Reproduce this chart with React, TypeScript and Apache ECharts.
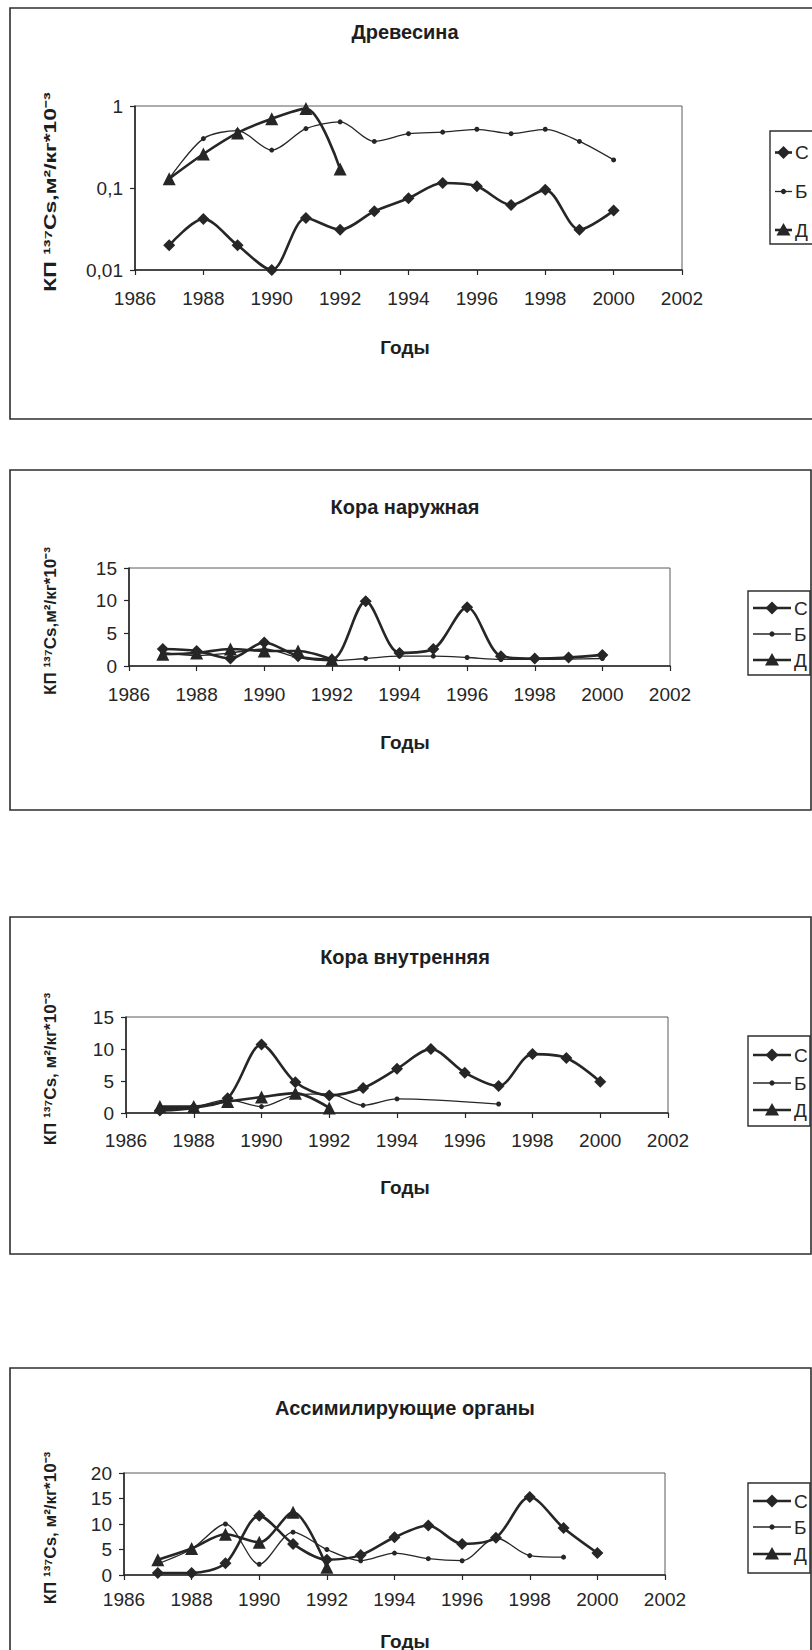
import React, { useEffect, useRef } from "react";
import * as echarts from "echarts";

// Years of observation
const years = [1987, 1988, 1989, 1990, 1991, 1992, 1993, 1994, 1995, 1996, 1997, 1998, 1999, 2000];
const yearsD = [1987, 1988, 1989, 1990, 1991, 1992];
const seriesNames = ["С", "Б", "Д"];
const xAxisRange = { min: 1986, max: 2002, interval: 2 };

// Древесина (log scale)
const woodC = [0.02, 0.042, 0.02, 0.01, 0.043, 0.031, 0.052, 0.075, 0.115, 0.105, 0.062, 0.095, 0.031, 0.053];
const woodB = [0.13, 0.4, 0.5, 0.29, 0.53, 0.64, 0.37, 0.46, 0.48, 0.52, 0.46, 0.52, 0.37, 0.22];
const woodD = [0.13, 0.26, 0.47, 0.7, 0.93, 0.17];

// Кора наружная
const outerC = [2.6, 2.3, 1.15, 3.6, 1.5, 1.0, 9.9, 2.0, 2.6, 9.0, 1.5, 1.15, 1.3, 1.7];
const outerB = [2.1, 1.6, 2.0, 2.6, 1.3, 0.8, 1.15, 1.5, 1.5, 1.3, 1.0, 1.0, 1.05, 1.15];
const outerD = [1.8, 2.0, 2.6, 2.3, 2.3, 1.0];

// Кора внутренняя
const innerC = [0.4, 0.8, 2.3, 10.7, 4.8, 2.75, 3.9, 6.9, 10.0, 6.3, 4.2, 9.2, 8.6, 4.9];
const innerBYears = [1987, 1988, 1989, 1990, 1991, 1992, 1993, 1994, 1997];
const innerB = [0.7, 0.9, 2.1, 1.0, 2.8, 3.0, 1.2, 2.2, 1.4];
const innerD = [1.0, 1.0, 1.8, 2.5, 3.1, 0.8];

// Ассимилирующие органы
const needleC = [0.4, 0.4, 2.3, 11.6, 6.1, 3.0, 3.9, 7.4, 9.7, 6.1, 7.3, 15.3, 9.2, 4.3];
const needleBYears = [1987, 1988, 1989, 1990, 1991, 1992, 1993, 1994, 1995, 1996, 1997, 1998, 1999];
const needleB = [2.2, 5.1, 10.0, 2.1, 8.4, 5.0, 2.8, 4.3, 3.2, 2.8, 7.3, 3.8, 3.5];
const needleD = [3.0, 5.2, 8.0, 6.4, 12.3, 1.5];

const FONT = '"Liberation Sans", Arial, Helvetica, sans-serif';
const INK = "#262626";

const pairs = (xs: number[], ys: number[]) => xs.map((x, i) => [x, ys[i]]);

type Panel = {
  title: string;
  yName: string;
  yNameStretch: number;
  log?: boolean;
  yMax: number;
  box: [number, number, number, number];
  grid: { left: number; top: number; width: number; height: number };
  labelMargin: number;
  titleY: number;
  xNameY: number;
  legendBox: [number, number, number, number];
  legendRows: number[];
  legendLine: number;
  data: number[][][];
};

const panels: Panel[] = [
  {
    title: "Древесина",
    yName: "КП ¹³⁷Cs,м²/кг*10⁻³",
    yNameStretch: 1.35,
    log: true,
    yMax: 1,
    box: [10, 8, 830, 411],
    grid: { left: 135, top: 106, width: 547, height: 164 },
    labelMargin: 19,
    titleY: 32,
    xNameY: 347,
    legendBox: [770, 131, 60, 113],
    legendRows: [21.5, 60.5, 99],
    legendLine: 17,
    data: [pairs(years, woodC), pairs(years, woodB), pairs(yearsD, woodD)],
  },
  {
    title: "Кора наружная",
    yName: "КП ¹³⁷Cs,м²/кг*10⁻³",
    yNameStretch: 1,
    yMax: 15,
    box: [10, 470, 801, 340],
    grid: { left: 129, top: 568, width: 541, height: 98 },
    labelMargin: 19,
    titleY: 507,
    xNameY: 742,
    legendBox: [748, 591, 62, 84],
    legendRows: [17, 43, 69],
    legendLine: 38,
    data: [pairs(years, outerC), pairs(years, outerB), pairs(yearsD, outerD)],
  },
  {
    title: "Кора внутренняя",
    yName: "КП ¹³⁷Cs, м²/кг*10⁻³",
    yNameStretch: 1,
    yMax: 15,
    box: [10, 917, 801, 337],
    grid: { left: 126, top: 1017, width: 542, height: 96 },
    labelMargin: 18,
    titleY: 957,
    xNameY: 1187,
    legendBox: [748, 1036, 62, 90],
    legendRows: [19, 47, 74],
    legendLine: 38,
    data: [pairs(years, innerC), pairs(innerBYears, innerB), pairs(yearsD, innerD)],
  },
  {
    title: "Ассимилирующие органы",
    yName: "КП ¹³⁷Cs, м²/кг*10⁻³",
    yNameStretch: 1,
    yMax: 20,
    box: [10, 1368, 801, 400],
    grid: { left: 124, top: 1473, width: 541, height: 102 },
    labelMargin: 15,
    titleY: 1408,
    xNameY: 1641,
    legendBox: [748, 1483, 62, 90],
    legendRows: [18, 44, 71],
    legendLine: 38,
    data: [pairs(years, needleC), pairs(needleBYears, needleB), pairs(yearsD, needleD)],
  },
];

const seriesStyles = [
  { symbol: "diamond", symbolSize: 12, width: 2.6 },
  { symbol: "circle", symbolSize: 5, width: 1.3 },
  { symbol: "triangle", symbolSize: 13, width: 2.6 },
];

function legendMarker(kind: number, cx: number, cy: number) {
  if (kind === 0) {
    return {
      type: "polygon",
      shape: { points: [[cx, cy - 6.5], [cx + 6.5, cy], [cx, cy + 6.5], [cx - 6.5, cy]] },
      style: { fill: INK },
    };
  }
  if (kind === 1) {
    return { type: "circle", shape: { cx, cy, r: 2.6 }, style: { fill: INK } };
  }
  return {
    type: "polygon",
    shape: { points: [[cx, cy - 7], [cx + 7, cy + 5.5], [cx - 7, cy + 5.5]] },
    style: { fill: INK },
  };
}

function buildOption() {
  const grid: any[] = [];
  const xAxis: any[] = [];
  const yAxis: any[] = [];
  const series: any[] = [];
  const graphic: any[] = [];

  const axisLine = { show: true, onZero: false, lineStyle: { color: INK, width: 1.6 } };
  const axisTick = { show: true, inside: false, length: 5, lineStyle: { color: INK, width: 1.2 } };
  const tickFont = { color: INK, fontFamily: FONT, fontSize: 19 };

  panels.forEach((p, pi) => {
    grid.push({
      left: p.grid.left,
      top: p.grid.top,
      width: p.grid.width,
      height: p.grid.height,
      show: true,
      borderColor: "#5a5a5a",
      borderWidth: 1,
      backgroundColor: "transparent",
    });
    xAxis.push({
      gridIndex: pi,
      type: "value",
      min: xAxisRange.min,
      max: xAxisRange.max,
      interval: xAxisRange.interval,
      axisLine,
      axisTick,
      splitLine: { show: false },
      axisLabel: {
        ...tickFont,
        margin: p.labelMargin,
        formatter: (v: number) => String(v),
        showMinLabel: true,
        showMaxLabel: true,
      },
    });
    if (p.log) {
      yAxis.push({
        gridIndex: pi,
        type: "log",
        logBase: 10,
        min: 0.01,
        max: p.yMax,
        axisLine,
        axisTick,
        splitLine: { show: false },
        minorTick: { show: false },
        axisLabel: {
          ...tickFont,
          margin: 12,
          formatter: (v: number) => String(Number(v.toPrecision(2))).replace(".", ","),
        },
      });
    } else {
      yAxis.push({
        gridIndex: pi,
        type: "value",
        min: 0,
        max: p.yMax,
        interval: 5,
        axisLine,
        axisTick,
        splitLine: { show: false },
        axisLabel: { ...tickFont, margin: 12 },
      });
    }

    p.data.forEach((d, si) => {
      const st = seriesStyles[si];
      series.push({
        type: "line",
        name: seriesNames[si],
        xAxisIndex: pi,
        yAxisIndex: pi,
        data: d,
        smooth: 0.3,
        symbol: st.symbol,
        symbolSize: st.symbolSize,
        showSymbol: true,
        clip: false,
        lineStyle: { color: INK, width: st.width },
        itemStyle: { color: INK, borderWidth: 0 },
        z: 3 - si,
      });
    });

    // Frame of the panel
    graphic.push({
      type: "rect",
      shape: { x: p.box[0], y: p.box[1], width: p.box[2], height: p.box[3] },
      style: { fill: "none", stroke: "#2e2e2e", lineWidth: 1.6 },
      silent: true,
    });
    // Panel title
    graphic.push({
      type: "text",
      x: 405,
      y: p.titleY,
      style: {
        text: p.title,
        font: `bold 20px ${FONT}`,
        fill: "#1e1e1e",
        textAlign: "center",
        textVerticalAlign: "middle",
      },
    });
    // X axis title
    graphic.push({
      type: "text",
      x: 405,
      y: p.xNameY,
      style: {
        text: "Годы",
        font: `bold 19px ${FONT}`,
        fill: "#1e1e1e",
        textAlign: "center",
        textVerticalAlign: "middle",
      },
    });
    // Y axis title, rotated to read upwards
    graphic.push({
      type: "text",
      x: 50,
      y: p.grid.top + p.grid.height / 2 + 4,
      rotation: Math.PI / 2,
      scaleX: p.yNameStretch,
      style: {
        text: p.yName,
        font: `bold 17px ${FONT}`,
        fill: "#1e1e1e",
        textAlign: "center",
        textVerticalAlign: "middle",
      },
    });
    // Legend
    const [lx, ly, lw, lh] = p.legendBox;
    const items: any[] = [
      {
        type: "rect",
        shape: { x: lx, y: ly, width: lw, height: lh },
        style: { fill: "#fff", stroke: "#2e2e2e", lineWidth: 1.4 },
      },
    ];
    seriesNames.forEach((name, si) => {
      const cy = ly + p.legendRows[si];
      const x0 = lx + 5;
      items.push({
        type: "line",
        shape: { x1: x0, y1: cy, x2: x0 + p.legendLine, y2: cy },
        style: { stroke: INK, lineWidth: seriesStyles[si].width },
      });
      items.push(legendMarker(si, x0 + p.legendLine / 2, cy));
      items.push({
        type: "text",
        x: x0 + p.legendLine + 3,
        y: cy,
        style: {
          text: name,
          font: `19px ${FONT}`,
          fill: INK,
          textAlign: "left",
          textVerticalAlign: "middle",
        },
      });
    });
    graphic.push({ type: "group", children: items, z: 10 });
  });

  return {
    animation: false,
    backgroundColor: "#ffffff",
    grid,
    xAxis,
    yAxis,
    series,
    graphic,
  };
}

export default function App() {
  const ref = useRef<HTMLDivElement>(null);

  useEffect(() => {
    if (!ref.current) return;
    const chart = echarts.init(ref.current, undefined, { renderer: "svg" });
    chart.setOption(buildOption() as any);
    return () => {
      chart.dispose();
    };
  }, []);

  return (
    <div
      ref={ref}
      style={{ position: "absolute", left: 0, top: 0, width: 812, height: 1650, background: "#fff" }}
    />
  );
}
